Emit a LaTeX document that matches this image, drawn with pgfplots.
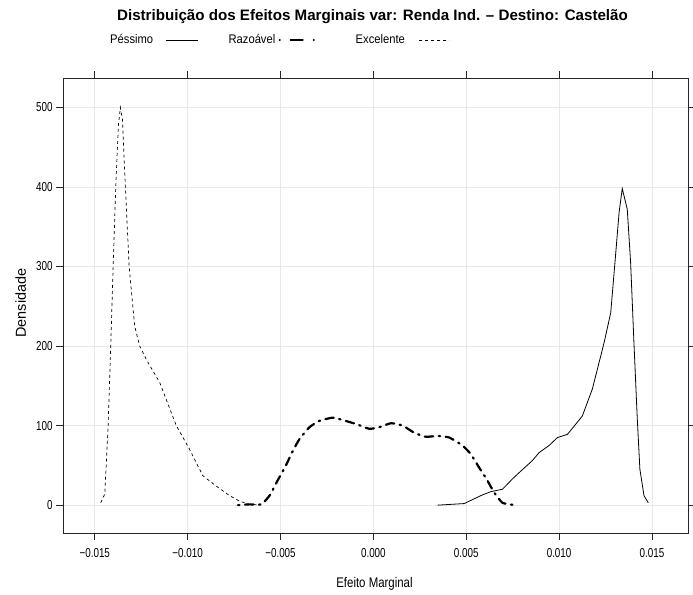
\documentclass[border=0pt]{standalone}
\usepackage{fontspec}
\setmainfont{Liberation Sans}
\usepackage{pgfplots}
\pgfplotsset{compat=1.18}
\pgfplotsset{
  leg A/.style={legend image code/.code={\draw[##1] (0bp,0bp) -- (32bp,0bp); \path[draw=none,fill=none] (0bp,0bp) rectangle (63bp,0.1bp);}},
  leg B/.style={legend image code/.code={\draw[black, line width=2.2bp, line cap=round, dash pattern=on 0bp off 11bp on 12bp off 11bp on 0bp] (1bp,0bp) -- (35bp,0bp); \path[draw=none,fill=none] (0bp,0bp) rectangle (77bp,0.1bp);}},
  leg C/.style={legend image code/.code={\draw[##1] (0bp,0bp) -- (30bp,0bp);}},
}
\pgfplotstableread{
x y
-0.01468 3
-0.01446 14
-0.01428 100
-0.01414 200
-0.01401 300
-0.01387 400
-0.01373 477
-0.01362 500
-0.01351 485
-0.01335 400
-0.01315 300
-0.01285 225
-0.01258 200
-0.01222 183
-0.01150 154
-0.01061 100
-0.00989 70
-0.00918 37
-0.00846 24
-0.00774 12
-0.00720 5
-0.00667 1
-0.00620 0.5
}\excelente
\pgfplotstableread{
x y
-0.00729 0
-0.00667 1
-0.00604 1
-0.00559 12
-0.00511 33
-0.00473 49
-0.00434 68
-0.00398 83
-0.00344 98
-0.00290 106
-0.00219 110
-0.00165 107
-0.00093 102
-0.00022 96
0.00032 98
0.00095 103
0.00158 100
0.00220 91
0.00283 86
0.00346 87
0.00409 85
0.00480 75
0.00525 64
0.00570 47
0.00609 33
0.00650 16
0.00695 3
0.00749 0.5
}\razoavel
\pgfplotstableread{
x y
0.00346 0
0.00489 2
0.00588 13
0.00633 17
0.00695 20
0.00749 33
0.00776 39
0.00856 56
0.00892 66
0.00946 75
0.00991 85
0.01045 89
0.01125 112
0.01179 146
0.01242 204
0.01278 242
0.01305 317
0.01323 368
0.01340 398
0.01367 372
0.01385 305
0.01403 204
0.01421 108
0.01435 45
0.01457 12
0.01480 3
}\pessimo
\begin{document}
\begin{tikzpicture}
\begin{axis}[
  name=ax,
  scale only axis, width=625bp, height=455bp,
  xmin=-0.01671, xmax=0.01694, ymin=-35, ymax=537,
  xtick={-0.015,-0.010,-0.005,0,0.005,0.010,0.015},
  xticklabels={−0.015,−0.010,−0.005,0.000,0.005,0.010,0.015},
  scaled x ticks=false,
  ytick={0,100,200,300,400,500},
  yticklabels={0,100,200,300,400,500},
  tick align=outside,
  major tick length=7bp,
  grid=major,
  major grid style={black!9, line width=0.8bp},
  axis line style={black!85, line width=0.8bp},
  tick style={black!85, line width=0.8bp},
  ticklabel style={font={\fontsize{13}{15}\selectfont\addfontfeature{FakeStretch=0.76}}},
  xticklabel style={yshift=-5bp},
  xlabel={Efeito Marginal},
  ylabel={Densidade},
  xlabel style={at={(axis description cs:0.4984,-0.1187)}, anchor=base, font={\fontsize{14}{16}\selectfont\addfontfeature{FakeStretch=0.82}}},
  ylabel style={at={(axis description cs:-0.0592,0.5055)}, anchor=base, font={\fontsize{14.5}{16}\selectfont}},
  title={Distribuição dos Efeitos Marginais var: Renda Ind. – Destino: Castelão},
  title style={at={(axis description cs:0.4952,1.1135)}, anchor=base, font={\fontsize{15.2}{17}\selectfont\bfseries}},
  legend plot pos=right,
  legend columns=3,
  legend style={at={(axis description cs:0.0752,1.0835)}, anchor=west, draw=none, fill=none,
    inner sep=0pt, column sep=0pt, nodes={inner sep=0pt},
    font={\fontsize{12.5}{15}\selectfont\addfontfeature{FakeStretch=0.9}}},
]
\addplot[black, line width=0.8bp, leg A] table[x=x,y=y] {\pessimo};
\addlegendentry{\makebox[55bp][l]{Péssimo}}
\addplot[black, line width=2.2bp, dash pattern=on 1.5bp off 5.5bp on 8.5bp off 5.5bp, line cap=round, smooth, tension=0.3, leg B] table[x=x,y=y] {\razoavel};
\addlegendentry{\makebox[50bp][l]{Razoável}}
\addplot[black, line width=0.7bp, dash pattern=on 3bp off 3bp, leg C] table[x=x,y=y] {\excelente};
\addlegendentry{\makebox[63bp][l]{Excelente}}
\end{axis}
\pgfresetboundingbox
\path[use as bounding box] ([shift={(-63bp,-62bp)}]ax.south west) rectangle ([shift={(5bp,78bp)}]ax.north east);
\end{tikzpicture}
\end{document}
